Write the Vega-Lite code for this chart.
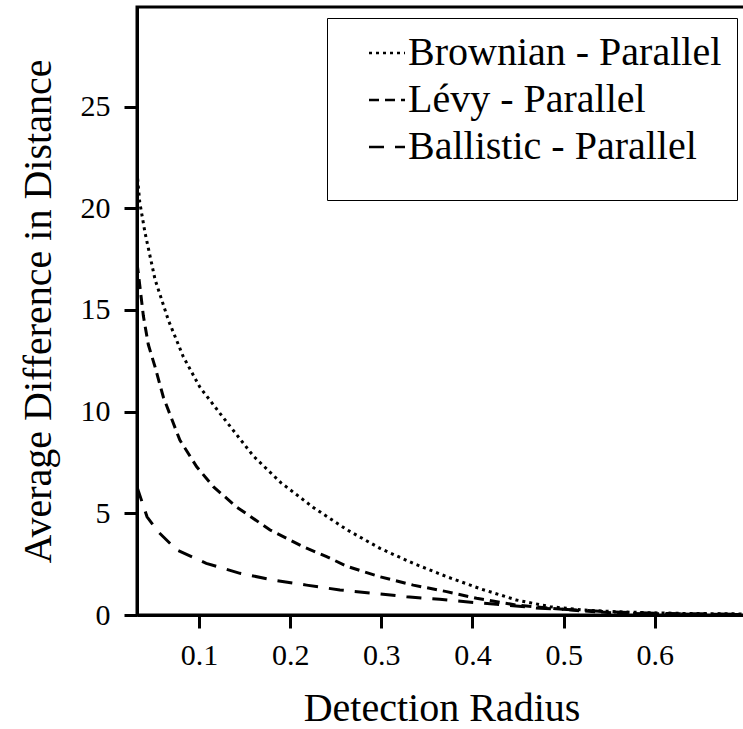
{
  "$schema": "https://vega.github.io/schema/vega-lite/v6.json",
  "autosize": "none",
  "width": 609,
  "height": 608,
  "padding": {"left": 137, "top": 7, "right": 0, "bottom": 114},
  "background": "white",
  "config": {
    "font": "Liberation Serif",
    "view": {"stroke": "black", "strokeWidth": 3}
  },
  "data": {
    "values": [
      {"r": 0.032, "d": 21.8, "s": "Brownian - Parallel"},
      {"r": 0.035, "d": 20.3, "s": "Brownian - Parallel"},
      {"r": 0.0408, "d": 18.8, "s": "Brownian - Parallel"},
      {"r": 0.0518, "d": 16.5, "s": "Brownian - Parallel"},
      {"r": 0.0664, "d": 14.5, "s": "Brownian - Parallel"},
      {"r": 0.0828, "d": 12.7, "s": "Brownian - Parallel"},
      {"r": 0.101, "d": 11.2, "s": "Brownian - Parallel"},
      {"r": 0.125, "d": 9.8, "s": "Brownian - Parallel"},
      {"r": 0.16, "d": 7.8, "s": "Brownian - Parallel"},
      {"r": 0.19, "d": 6.5, "s": "Brownian - Parallel"},
      {"r": 0.225, "d": 5.3, "s": "Brownian - Parallel"},
      {"r": 0.262, "d": 4.2, "s": "Brownian - Parallel"},
      {"r": 0.2985, "d": 3.28, "s": "Brownian - Parallel"},
      {"r": 0.335, "d": 2.54, "s": "Brownian - Parallel"},
      {"r": 0.372, "d": 1.88, "s": "Brownian - Parallel"},
      {"r": 0.41, "d": 1.27, "s": "Brownian - Parallel"},
      {"r": 0.448, "d": 0.74, "s": "Brownian - Parallel"},
      {"r": 0.485, "d": 0.41, "s": "Brownian - Parallel"},
      {"r": 0.521, "d": 0.25, "s": "Brownian - Parallel"},
      {"r": 0.558, "d": 0.16, "s": "Brownian - Parallel"},
      {"r": 0.594, "d": 0.11, "s": "Brownian - Parallel"},
      {"r": 0.63, "d": 0.08, "s": "Brownian - Parallel"},
      {"r": 0.7, "d": 0.05, "s": "Brownian - Parallel"},
      {"r": 0.032, "d": 17.3, "s": "Lévy - Parallel"},
      {"r": 0.0335, "d": 16.8, "s": "Lévy - Parallel"},
      {"r": 0.039, "d": 14.7, "s": "Lévy - Parallel"},
      {"r": 0.0444, "d": 13.3, "s": "Lévy - Parallel"},
      {"r": 0.0518, "d": 12.2, "s": "Lévy - Parallel"},
      {"r": 0.061, "d": 10.7, "s": "Lévy - Parallel"},
      {"r": 0.079, "d": 8.6, "s": "Lévy - Parallel"},
      {"r": 0.0975, "d": 7.29, "s": "Lévy - Parallel"},
      {"r": 0.1157, "d": 6.31, "s": "Lévy - Parallel"},
      {"r": 0.141, "d": 5.32, "s": "Lévy - Parallel"},
      {"r": 0.178, "d": 4.18, "s": "Lévy - Parallel"},
      {"r": 0.214, "d": 3.36, "s": "Lévy - Parallel"},
      {"r": 0.24, "d": 2.87, "s": "Lévy - Parallel"},
      {"r": 0.262, "d": 2.4, "s": "Lévy - Parallel"},
      {"r": 0.2985, "d": 1.88, "s": "Lévy - Parallel"},
      {"r": 0.335, "d": 1.47, "s": "Lévy - Parallel"},
      {"r": 0.3716, "d": 1.15, "s": "Lévy - Parallel"},
      {"r": 0.4045, "d": 0.82, "s": "Lévy - Parallel"},
      {"r": 0.448, "d": 0.49, "s": "Lévy - Parallel"},
      {"r": 0.485, "d": 0.33, "s": "Lévy - Parallel"},
      {"r": 0.521, "d": 0.2, "s": "Lévy - Parallel"},
      {"r": 0.558, "d": 0.1, "s": "Lévy - Parallel"},
      {"r": 0.594, "d": 0.06, "s": "Lévy - Parallel"},
      {"r": 0.7, "d": 0.02, "s": "Lévy - Parallel"},
      {"r": 0.032, "d": 6.3, "s": "Ballistic - Parallel"},
      {"r": 0.043, "d": 4.83, "s": "Ballistic - Parallel"},
      {"r": 0.055, "d": 4.1, "s": "Ballistic - Parallel"},
      {"r": 0.0755, "d": 3.2, "s": "Ballistic - Parallel"},
      {"r": 0.108, "d": 2.54, "s": "Ballistic - Parallel"},
      {"r": 0.145, "d": 2.05, "s": "Ballistic - Parallel"},
      {"r": 0.1815, "d": 1.72, "s": "Ballistic - Parallel"},
      {"r": 0.218, "d": 1.47, "s": "Ballistic - Parallel"},
      {"r": 0.2546, "d": 1.23, "s": "Ballistic - Parallel"},
      {"r": 0.291, "d": 1.07, "s": "Ballistic - Parallel"},
      {"r": 0.3277, "d": 0.9, "s": "Ballistic - Parallel"},
      {"r": 0.364, "d": 0.77, "s": "Ballistic - Parallel"},
      {"r": 0.4008, "d": 0.62, "s": "Ballistic - Parallel"},
      {"r": 0.437, "d": 0.49, "s": "Ballistic - Parallel"},
      {"r": 0.474, "d": 0.33, "s": "Ballistic - Parallel"},
      {"r": 0.515, "d": 0.25, "s": "Ballistic - Parallel"},
      {"r": 0.55, "d": 0.16, "s": "Ballistic - Parallel"},
      {"r": 0.6, "d": 0.08, "s": "Ballistic - Parallel"},
      {"r": 0.7, "d": 0.03, "s": "Ballistic - Parallel"}
    ]
  },
  "mark": {"type": "line", "color": "black", "strokeWidth": 3, "strokeCap": "butt", "clip": true},
  "encoding": {
    "x": {
      "field": "r", "type": "quantitative",
      "scale": {"domain": [0.032, 0.7], "nice": false, "zero": false},
      "axis": {
        "title": "Detection Radius", "values": [0.1, 0.2, 0.3, 0.4, 0.5, 0.6], "format": ".1f",
        "grid": false, "domainColor": "black", "domainWidth": 3, "tickColor": "black", "tickWidth": 3, "tickSize": 13,
        "labelFont": "Liberation Serif", "labelFontSize": 30, "labelColor": "black", "labelPadding": 12, "labelFlush": false,
        "titleFont": "Liberation Serif", "titleFontSize": 40, "titleFontWeight": "normal", "titleColor": "black", "titleBaseline": "alphabetic", "titleY": 105
      }
    },
    "y": {
      "field": "d", "type": "quantitative",
      "scale": {"domain": [0, 29.9], "nice": false},
      "axis": {
        "title": "Average Difference in Distance", "values": [0, 5, 10, 15, 20, 25],
        "grid": false, "domainColor": "black", "domainWidth": 3, "tickColor": "black", "tickWidth": 3, "tickSize": 13,
        "labelFont": "Liberation Serif", "labelFontSize": 30, "labelColor": "black", "labelPadding": 14, "labelFlush": false,
        "titleFont": "Liberation Serif", "titleFontSize": 40, "titleFontWeight": "normal", "titleColor": "black", "titleBaseline": "alphabetic", "titleX": -87
      }
    },
    "strokeDash": {
      "field": "s", "type": "nominal",
      "scale": {
        "domain": ["Brownian - Parallel", "Lévy - Parallel", "Ballistic - Parallel"],
        "range": [[3, 4], [10, 6], [15, 11]]
      },
      "legend": {
        "title": " ", "titleOrient": "bottom", "titleFontSize": 14, "titlePadding": 4,
        "orient": "none", "legendX": 190, "legendY": 11,
        "strokeColor": "black", "fillColor": "white", "padding": 15,
        "symbolType": "stroke", "symbolSize": 1296, "symbolStrokeWidth": 2.5, "symbolStrokeColor": "black",
        "symbolOffset": 25, "labelOffset": 1,
        "labelFont": "Liberation Serif", "labelFontSize": 40, "labelColor": "black", "labelLimit": 500, "rowPadding": 7
      }
    }
  }
}
